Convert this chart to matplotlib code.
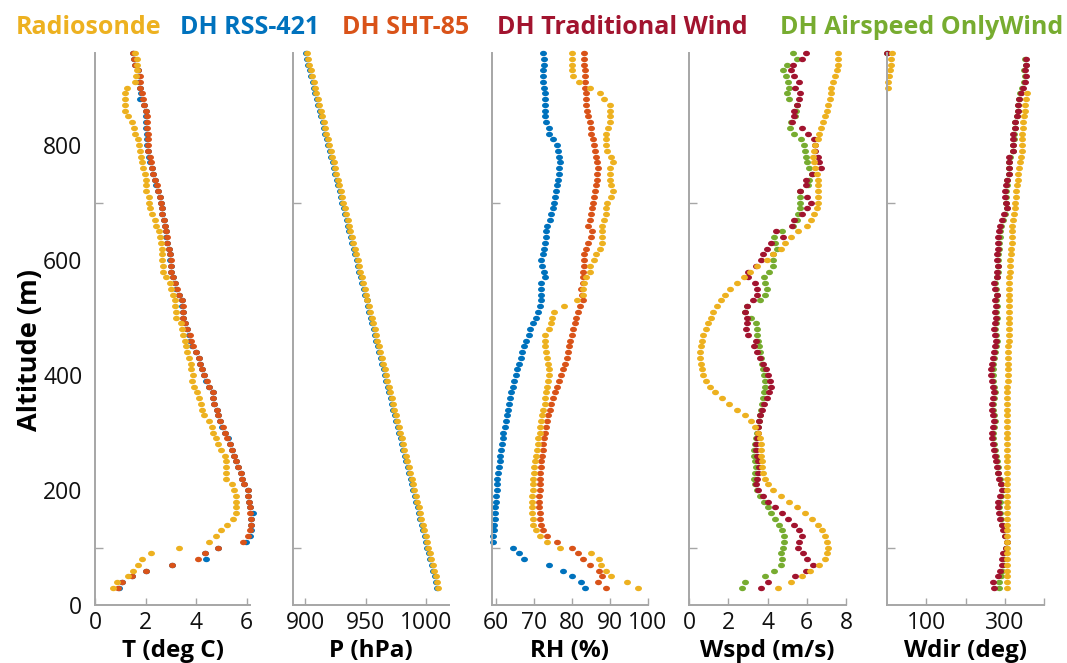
import matplotlib
matplotlib.use('Agg')
import numpy as np
import matplotlib.pyplot as plt
from matplotlib.path import Path

plt.rcParams['font.family'] = ['Open Sans', 'DejaVu Sans']

# ---------------- data (top-down, altitude 960 m -> 30 m) ----------------
altitude = [960, 950, 940, 930, 920, 910, 900, 890, 880, 870,
            860, 850, 840, 830, 820, 810, 800, 790, 780, 770,
            760, 750, 740, 730, 720, 710, 700, 690, 680, 670,
            660, 650, 640, 630, 620, 610, 600, 590, 580, 570,
            560, 550, 540, 530, 520, 510, 500, 490, 480, 470,
            460, 450, 440, 430, 420, 410, 400, 390, 380, 370,
            360, 350, 340, 330, 320, 310, 300, 290, 280, 270,
            260, 250, 240, 230, 220, 210, 200, 190, 180, 170,
            160, 150, 140, 130, 120, 110, 100, 90, 80, 70,
            60, 50, 40, 30]

T_radiosonde = [1.58, 1.67, 1.67, 1.68, 1.64, 1.58, 1.28, 1.19, 1.19, 1.19,
                1.19, 1.32, 1.45, 1.54, 1.59, 1.69, 1.75, 1.78, 1.83, 1.84,
                1.88, 1.98, 2.01, 2.00, 2.02, 2.12, 2.14, 2.17, 2.24, 2.37,
                2.41, 2.52, 2.58, 2.61, 2.64, 2.64, 2.66, 2.69, 2.70, 2.79,
                2.95, 2.99, 3.10, 3.18, 3.16, 3.20, 3.22, 3.40, 3.43, 3.49,
                3.56, 3.60, 3.65, 3.71, 3.78, 3.81, 3.86, 3.85, 3.93, 4.02,
                4.12, 4.19, 4.24, 4.32, 4.51, 4.61, 4.68, 4.78, 4.87, 5.00,
                5.14, 5.18, 5.18, 5.20, 5.20, 5.43, 5.51, 5.56, 5.56, 5.57,
                5.58, 5.47, 5.23, 4.97, 4.78, 4.52, 3.32, 2.20, 1.84, 1.71,
                1.51, 1.29, 0.86, 0.72]
T_sht85 = [1.52, 1.56, 1.57, 1.71, 1.76, 1.78, 1.78, 1.84, 1.88, 1.95,
           2.01, 2.04, 2.07, 2.07, 2.08, 2.08, 2.08, 2.11, 2.17, 2.20,
           2.27, 2.31, 2.37, 2.44, 2.51, 2.57, 2.62, 2.66, 2.66, 2.73,
           2.78, 2.81, 2.83, 2.86, 2.94, 2.96, 2.99, 3.00, 3.00, 3.10,
           3.15, 3.23, 3.34, 3.43, 3.47, 3.47, 3.49, 3.56, 3.65, 3.74,
           3.78, 3.86, 3.99, 4.12, 4.17, 4.24, 4.32, 4.41, 4.51, 4.65,
           4.68, 4.72, 4.82, 4.87, 4.94, 5.05, 5.14, 5.24, 5.34, 5.43,
           5.51, 5.57, 5.67, 5.76, 5.82, 5.90, 6.06, 6.06, 6.10, 6.13,
           6.13, 6.15, 6.15, 6.13, 6.06, 5.86, 4.85, 4.37, 4.06, 3.03,
           2.00, 1.47, 1.06, 0.90]
T_rss421 = [1.50, 1.55, 1.57, 1.70, 1.75, 1.74, 1.77, 1.82, 1.78, 1.93,
            2.00, 2.03, 2.03, 2.02, 2.05, 2.04, 2.06, 2.10, 2.15, 2.19,
            2.25, 2.30, 2.36, 2.43, 2.50, 2.56, 2.61, 2.64, 2.65, 2.72,
            2.77, 2.80, 2.82, 2.86, 2.93, 2.95, 2.97, 2.99, 3.00, 3.09,
            3.15, 3.22, 3.33, 3.43, 3.46, 3.47, 3.49, 3.55, 3.64, 3.73,
            3.77, 3.85, 3.98, 4.11, 4.16, 4.24, 4.31, 4.40, 4.52, 4.66,
            4.67, 4.72, 4.81, 4.87, 4.94, 5.04, 5.13, 5.25, 5.33, 5.42,
            5.51, 5.57, 5.66, 5.76, 5.83, 5.90, 6.07, 6.07, 6.10, 6.14,
            6.26, 6.15, 6.16, 6.16, 6.13, 5.96, 4.85, 4.37, 4.39, 3.03,
            2.00, 1.48, 1.06, 0.95]

P_radiosonde = [901.2, 902.4, 903.5, 904.7, 905.9, 907.0, 908.2, 909.4, 910.6, 911.7,
                912.9, 914.1, 915.3, 916.4, 917.6, 918.8, 919.9, 921.1, 922.3, 923.5,
                924.6, 925.8, 927.0, 928.2, 929.3, 930.5, 931.7, 932.8, 934.0, 935.2,
                936.4, 937.5, 938.7, 939.9, 941.1, 942.2, 943.4, 944.6, 945.7, 946.9,
                948.1, 949.3, 950.4, 951.6, 952.8, 954.0, 955.1, 956.3, 957.5, 958.6,
                959.8, 961.0, 962.2, 963.3, 964.5, 965.7, 966.9, 968.0, 969.2, 970.4,
                971.5, 972.7, 973.9, 975.1, 976.2, 977.4, 978.6, 979.8, 980.9, 982.1,
                983.3, 984.4, 985.6, 986.8, 988.0, 989.1, 990.3, 991.5, 992.7, 993.8,
                995.0, 996.2, 997.3, 998.5, 999.7, 1000.9, 1002.0, 1003.2, 1004.4, 1005.6,
                1006.7, 1007.9, 1009.1, 1010.2]
P_rss421 = [900.4, 901.6, 902.8, 903.9, 905.1, 906.2, 907.4, 908.6, 909.8, 910.9,
            912.1, 913.3, 914.5, 915.6, 916.8, 918.0, 919.1, 920.3, 921.5, 922.7,
            923.8, 925.0, 926.2, 927.4, 928.5, 929.7, 930.9, 932.0, 933.2, 934.4,
            935.6, 936.7, 937.9, 939.1, 940.3, 941.4, 942.6, 943.8, 944.9, 946.1,
            947.3, 948.5, 949.6, 950.8, 952.0, 953.2, 954.3, 955.5, 956.7, 957.8,
            959.0, 960.2, 961.4, 962.5, 963.7, 964.9, 966.1, 967.2, 968.4, 969.6,
            970.7, 971.9, 973.1, 974.3, 975.4, 976.6, 977.8, 979.0, 980.1, 981.3,
            982.5, 983.6, 984.8, 986.0, 987.2, 988.3, 989.5, 990.7, 991.9, 993.0,
            994.2, 995.4, 996.5, 997.7, 998.9, 1000.1, 1001.2, 1002.4, 1003.6, 1004.8,
            1005.9, 1007.1, 1008.3, 1009.4]

RH_radiosonde = [79.9, 79.9, 79.9, 79.9, 80.3, 81.8, 84.7, 87.4, 88.5, 90.0,
                 90.0, 90.0, 90.0, 89.4, 88.9, 88.9, 88.9, 89.3, 90.4, 90.8,
                 90.0, 90.0, 90.0, 90.4, 90.7, 90.4, 89.3, 88.9, 88.9, 88.5,
                 87.8, 87.8, 87.8, 87.8, 87.4, 86.3, 85.9, 84.7, 84.7, 83.8,
                 83.1, 82.9, 82.9, 81.4, 78.0, 75.4, 74.9, 74.4, 74.0, 72.9,
                 72.9, 73.0, 73.2, 73.5, 73.8, 74.0, 74.0, 73.8, 73.5, 73.3,
                 73.0, 72.8, 72.5, 72.2, 72.0, 71.7, 71.5, 71.2, 71.0, 70.7,
                 70.5, 70.3, 70.1, 70.0, 69.9, 69.8, 69.7, 69.6, 69.6, 69.6,
                 69.6, 69.7, 69.9, 70.5, 71.5, 73.5, 77.0, 85.0, 87.1, 87.6,
                 88.9, 90.3, 94.4, 97.4]
RH_rss421 = [72.5, 72.6, 72.6, 72.3, 72.3, 72.4, 72.6, 72.8, 72.9, 72.8,
             72.8, 72.8, 73.2, 73.9, 74.0, 75.1, 76.1, 76.4, 76.7, 76.8,
             76.7, 76.5, 76.3, 76.0, 75.8, 75.6, 75.4, 75.0, 74.6, 74.3,
             73.5, 73.2, 73.2, 72.9, 72.6, 72.5, 72.0, 72.1, 72.6, 72.9,
             72.0, 71.8, 71.9, 71.9, 71.6, 71.2, 70.5, 69.7, 69.1, 68.7,
             67.9, 67.4, 66.9, 66.5, 66.0, 65.6, 65.2, 64.8, 64.4, 64.1,
             63.8, 63.5, 63.2, 62.9, 62.6, 62.3, 62.0, 61.8, 61.6, 61.4,
             61.2, 61.0, 60.8, 60.6, 60.4, 60.3, 60.2, 60.1, 60.0, 59.9,
             59.8, 59.7, 59.6, 59.4, 59.2, 59.2, 64.5, 66.0, 67.5, 73.9,
             77.7, 80.1, 82.5, 83.4]
RH_sht85 = [83.2, 83.2, 83.3, 83.4, 83.4, 83.4, 83.5, 83.6, 83.7, 83.8,
            83.9, 84.1, 84.7, 84.9, 85.1, 85.6, 85.9, 86.1, 86.3, 86.7,
            86.8, 86.7, 86.6, 86.3, 86.1, 85.9, 85.6, 85.4, 85.1, 84.7,
            84.2, 85.3, 85.0, 84.2, 83.6, 83.3, 83.1, 83.1, 82.9, 83.0,
            83.0, 82.4, 82.6, 82.9, 82.2, 81.6, 81.1, 80.7, 80.4, 80.1,
            79.6, 79.3, 79.0, 78.6, 78.2, 77.7, 77.2, 76.6, 76.0, 75.5,
            75.0, 74.6, 74.2, 73.8, 73.4, 73.1, 72.9, 72.7, 72.5, 72.3,
            72.1, 71.9, 71.8, 71.7, 71.6, 71.5, 71.5, 71.4, 71.4, 71.4,
            71.5, 71.6, 71.8, 72.3, 73.5, 76.0, 80.0, 81.5, 83.0, 84.7,
            87.1, 87.8, 86.9, 88.9]

Wspd_radiosonde = [7.60, 7.60, 7.60, 7.52, 7.43, 7.35, 7.26, 7.23, 7.18, 7.09,
                   7.04, 6.92, 6.84, 6.75, 6.63, 6.55, 6.41, 6.38, 6.33, 6.38,
                   6.41, 6.50, 6.55, 6.55, 6.55, 6.55, 6.55, 6.50, 6.36, 6.21,
                   6.00, 5.53, 5.19, 4.89, 4.68, 4.29, 3.95, 3.48, 3.10, 2.80,
                   2.43, 2.09, 1.83, 1.64, 1.44, 1.20, 1.12, 0.98, 0.86, 0.73,
                   0.64, 0.60, 0.58, 0.58, 0.60, 0.65, 0.72, 0.85, 1.05, 1.35,
                   1.70, 2.05, 2.45, 2.85, 3.15, 3.35, 3.50, 3.60, 3.65, 3.65,
                   3.65, 3.70, 3.72, 3.75, 3.85, 4.00, 4.30, 4.70, 5.10, 5.50,
                   5.90, 6.25, 6.55, 6.80, 6.95, 7.05, 7.10, 7.05, 6.92, 6.62,
                   6.19, 5.78, 5.22, 4.51]
Wspd_traditional = [5.94, 5.77, 5.31, 5.19, 5.34, 5.58, 5.39, 5.65, 5.58, 5.51,
                    5.36, 5.34, 5.26, 5.77, 6.07, 6.36, 6.41, 6.41, 6.58, 6.63,
                    6.75, 6.29, 5.97, 5.97, 5.65, 6.02, 6.24, 6.02, 5.77, 5.36,
                    5.26, 4.43, 4.77, 4.17, 3.95, 3.78, 3.65, 3.41, 3.02, 3.02,
                    3.36, 3.44, 3.44, 3.26, 2.94, 2.85, 2.94, 2.94, 2.90, 3.02,
                    3.41, 3.30, 3.45, 3.60, 3.75, 3.90, 4.00, 4.15, 4.20, 4.10,
                    3.95, 3.80, 3.70, 3.60, 3.55, 3.50, 3.50, 3.45, 3.40, 3.40,
                    3.45, 3.50, 3.55, 3.50, 3.45, 3.40, 3.50, 3.75, 4.05, 4.40,
                    4.75, 5.05, 5.35, 5.60, 5.75, 5.60, 5.55, 5.80, 5.99, 6.33,
                    5.95, 5.39, 4.04, 3.65]
Wspd_airspeed = [5.31, 5.48, 5.00, 4.80, 4.94, 5.06, 5.09, 5.00, 5.11, 5.48,
                 5.45, 5.40, 5.19, 5.14, 5.36, 5.73, 5.87, 5.90, 5.94, 6.02,
                 6.12, 6.29, 6.12, 6.05, 5.65, 5.65, 5.65, 5.65, 5.53, 5.48,
                 5.31, 4.72, 4.33, 4.38, 4.50, 4.26, 4.29, 4.29, 4.09, 3.82,
                 3.87, 3.95, 3.87, 3.61, 2.94, 2.87, 3.16, 3.41, 3.48, 3.48,
                 3.53, 3.55, 3.60, 3.65, 3.70, 3.75, 3.80, 3.85, 3.85, 3.80,
                 3.75, 3.70, 3.65, 3.60, 3.55, 3.50, 3.45, 3.40, 3.35, 3.30,
                 3.30, 3.35, 3.40, 3.35, 3.30, 3.35, 3.45, 3.60, 3.80, 4.00,
                 4.20, 4.40, 4.60, 4.75, 4.85, 4.85, 4.80, 4.70, 4.72, 4.68,
                 4.33, 3.87, 2.85, 2.68]

Wdir_radiosonde = [11.8, 10.1, 10.0, 7.6, 5.9, 3.4, 1.7, 356, 355, 351,
                   351, 349, 347, 347, 345, 345, 345, 345, 341, 338,
                   337, 335, 333, 331, 328, 328, 327, 325, 323, 320,
                   318, 318, 318, 318, 316, 316, 314, 314, 314, 312,
                   312, 312, 312, 312, 312, 312, 310, 310, 310, 310,
                   310, 309, 309, 309, 308, 308, 308, 308, 307, 307,
                   307, 307, 306, 306, 306, 306, 306, 306, 306, 305,
                   305, 305, 305, 305, 305, 305, 305, 305, 305, 306,
                   306, 306, 306, 306, 306, 306, 306, 306, 306, 306,
                   306, 306, 306, 306]
Wdir_traditional = [1, 354, 354, 352, 354, 351, 347, 341, 337, 335,
                    334, 331, 325, 325, 322, 322, 322, 320, 312, 310,
                    310, 310, 305, 304, 301, 301, 302, 306, 299, 293,
                    287, 285, 283, 283, 284, 281, 281, 282, 280, 279,
                    272, 274, 279, 274, 277, 276, 277, 276, 272, 275,
                    277, 275, 272, 270, 268, 266, 266, 268, 270, 272,
                    270, 268, 268, 270, 272, 270, 268, 268, 270, 272,
                    275, 278, 280, 282, 285, 290, 294, 288, 284, 282,
                    285, 288, 292, 296, 300, 305, 303, 296, 294, 294,
                    288, 284, 269, 273]
Wdir_airspeed = [0, 352, 353, 350, 352, 349, 345, 340, 336, 334,
                 333, 331, 327, 326, 323, 323, 322, 321, 313, 312,
                 311, 311, 306, 305, 302, 303, 303, 306, 300, 296,
                 291, 289, 287, 286, 286, 284, 283, 284, 282, 281,
                 276, 277, 280, 277, 279, 278, 279, 278, 275, 277,
                 279, 277, 275, 273, 271, 270, 270, 271, 273, 275,
                 273, 271, 271, 273, 275, 273, 271, 271, 273, 275,
                 278, 280, 282, 284, 287, 291, 295, 290, 287, 285,
                 288, 290, 294, 298, 301, 305, 304, 299, 297, 296,
                 292, 290, 286, 286]

legend_names = ['Radiosonde', 'DH RSS-421', 'DH SHT-85', 'DH Traditional Wind', 'DH Airspeed OnlyWind']
x_labels = ['T (deg C)', 'P (hPa)', 'RH (%)', 'Wspd (m/s)', 'Wdir (deg)']
y_label = 'Altitude (m)'

# ---------------- styling ----------------
C_YEL = '#EDB120'
C_BLU = '#0072BD'
C_ORA = '#D95319'
C_RED = '#A2142F'
C_GRN = '#77AC30'
legend_colors = [C_YEL, C_BLU, C_ORA, C_RED, C_GRN]
AX_GRAY = '#a6a6a6'

# slightly flattened dot marker (wider than tall)
_t = np.linspace(0, 2 * np.pi, 40)
ELLIPSE = Path(np.column_stack([np.cos(_t), 0.78 * np.sin(_t)]), closed=True)

W, H = 1067, 663
fig = plt.figure(figsize=(W / 100, H / 100), dpi=100)

lefts = [95, 293, 492, 689, 887]
widths = [155, 156, 156, 157, 157]
bottom_px, top_px = 605, 53

panels = [
    dict(xlim=(0, 6.13), ticks=[0, 2, 4, 6], labels=['0', '2', '4', '6'],
         series=[(T_rss421, C_BLU), (T_sht85, C_ORA), (T_radiosonde, C_YEL)]),
    dict(xlim=(890, 1019), ticks=[900, 950, 1000], labels=['900', '950', '1000'],
         series=[(P_rss421, C_BLU), (P_radiosonde, C_YEL)]),
    dict(xlim=(59, 100), ticks=[60, 70, 80, 90, 100], labels=['60', '70', '80', '90', '100'],
         series=[(RH_rss421, C_BLU), (RH_sht85, C_ORA), (RH_radiosonde, C_YEL)]),
    dict(xlim=(0, 8), ticks=[0, 2, 4, 6, 8], labels=['0', '2', '4', '6', '8'],
         series=[(Wspd_airspeed, C_GRN), (Wspd_traditional, C_RED), (Wspd_radiosonde, C_YEL)]),
    dict(xlim=(0, 400), ticks=[100, 200, 300, 400], labels=['100', '', '300', ''],
         series=[(Wdir_airspeed, C_GRN), (Wdir_traditional, C_RED), (Wdir_radiosonde, C_YEL)]),
]

for i, p in enumerate(panels):
    ax = fig.add_axes([lefts[i] / W, 1 - bottom_px / H, widths[i] / W,
                       (bottom_px - top_px) / H])
    for vals, col in p['series']:
        ax.plot(vals, altitude, linestyle='none', marker=ELLIPSE, color=col,
                ms=5.0, mew=0, clip_on=False)
    ax.set_xlim(*p['xlim'])
    ax.set_ylim(0, 960)
    ax.set_xticks(p['ticks'])
    ax.set_xticklabels(p['labels'])
    ax.set_yticks([0, 200, 400, 600, 800])
    ax.set_yticks([100, 200, 400, 700], minor=True)
    if i == 0:
        ax.set_yticklabels(['0', '200', '400', '600', '800'])
    else:
        ax.set_yticklabels([])
    ax.tick_params(axis='y', which='major', length=0, pad=9, labelsize=16.5,
                   labelcolor='#111111')
    ax.tick_params(axis='y', which='minor', length=6, width=1, direction='in',
                   color=AX_GRAY)
    ax.tick_params(axis='x', which='major', length=5, width=1, direction='in',
                   color=AX_GRAY, pad=4, labelsize=16.5, labelcolor='#111111')
    for s in ['top', 'right']:
        ax.spines[s].set_visible(False)
    for s in ['left', 'bottom']:
        ax.spines[s].set_color(AX_GRAY)
        ax.spines[s].set_linewidth(1.4)
    ax.set_facecolor('none')
    ax.set_xlabel(x_labels[i], fontsize=17.5, fontweight='bold', labelpad=3)

fig.text(30 / W, 1 - 350 / H, y_label, rotation=90, ha='center', va='center',
         fontsize=19.5, fontweight='bold')

legend_cx = [89, 250, 406, 622, 922]
for name, col, x in zip(legend_names, legend_colors, legend_cx):
    fig.text(x / W, 1 - 34 / H, name, color=col, ha='center', va='baseline',
             fontsize=18, fontweight='bold')

fig.savefig('out.png', dpi=100)
